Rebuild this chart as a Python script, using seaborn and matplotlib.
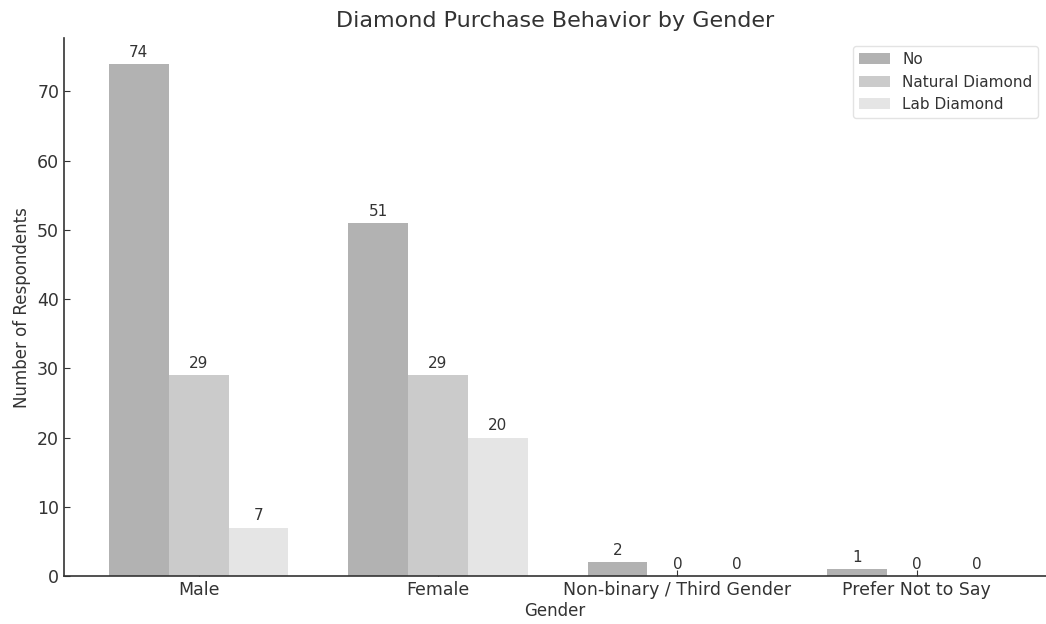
import matplotlib.pyplot as plt
import pandas as pd
import seaborn as sns

genders = ['Male', 'Female', 'Non-binary / Third Gender', 'Prefer Not to Say']
behaviors = ['No', 'Natural Diamond', 'Lab Diamond']
no_counts = [74, 51, 2, 1]
natural_counts = [29, 29, 0, 0]
lab_counts = [7, 20, 0, 0]

rows = []
for i, g in enumerate(genders):
    rows.append({'Gender': g, 'Purchase': 'No', 'Count': no_counts[i]})
    rows.append({'Gender': g, 'Purchase': 'Natural Diamond', 'Count': natural_counts[i]})
    rows.append({'Gender': g, 'Purchase': 'Lab Diamond', 'Count': lab_counts[i]})
df = pd.DataFrame(rows)

sns.set_style('ticks')
plt.rcParams['font.family'] = ['DejaVu Sans']
text_col = '#333333'

fig = plt.figure(figsize=(10.46, 6.24), dpi=100)
ax = fig.add_axes([0.0612, 0.0769, 0.9388, 0.862])

sns.barplot(data=df, x='Gender', y='Count', hue='Purchase', hue_order=behaviors,
            order=genders, palette=['#b2b2b2', '#cbcbcb', '#e5e5e5'],
            width=0.75, gap=0, saturation=1, linewidth=0, ax=ax)

for cont in ax.containers:
    ax.bar_label(cont, padding=3, fontsize=11, color=text_col)

ax.set_xlim(-0.5625, 3.54)
ax.set_ylim(0, 77.7)
ax.set_title('Diamond Purchase Behavior by Gender', fontsize=16, color=text_col, pad=8)
ax.set_xlabel('Gender', fontsize=12, color=text_col, labelpad=2)
ax.set_ylabel('Number of Respondents', fontsize=12, color=text_col)
ax.tick_params(direction='in', labelsize=12.5, colors=text_col, length=4)
for s in ['top', 'right']:
    ax.spines[s].set_visible(False)
for s in ['left', 'bottom']:
    ax.spines[s].set_color(text_col)
    ax.spines[s].set_linewidth(1.2)

leg = ax.legend(loc='upper right', fontsize=11, frameon=True, title=None,
                borderaxespad=0.5)
leg.get_frame().set_edgecolor('#dddddd')
for t in leg.get_texts():
    t.set_color(text_col)

fig.savefig('out.png', dpi=100)
